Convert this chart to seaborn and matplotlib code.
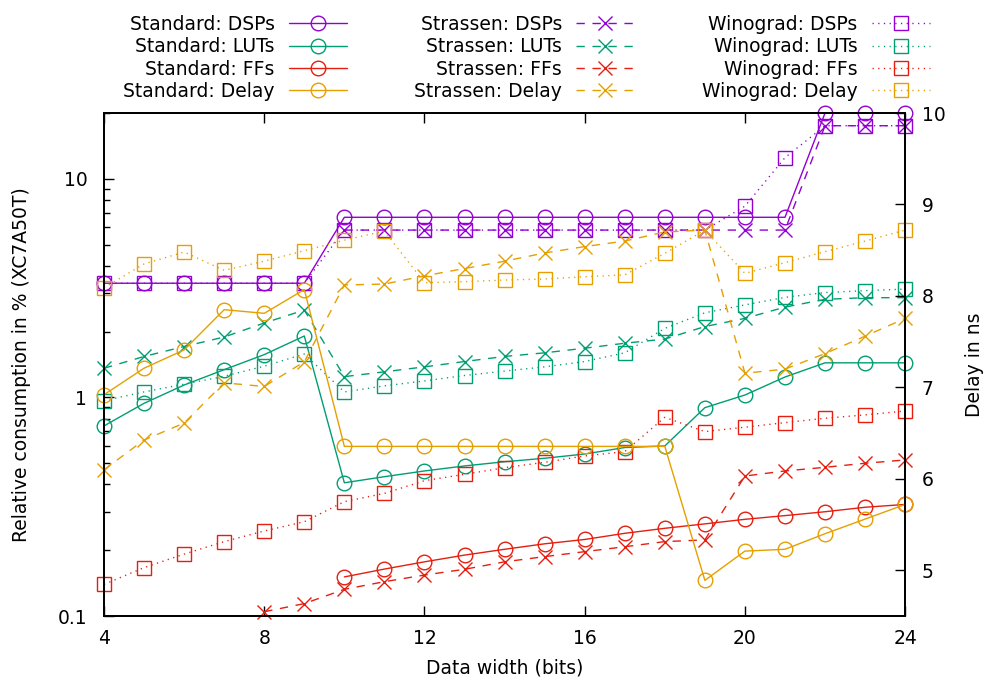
import numpy as np
import pandas as pd
import matplotlib
matplotlib.use("Agg")
import matplotlib.pyplot as plt
import seaborn as sns

# ---- data -------------------------------------------------------------
widths = list(range(4, 25))

std_dsps = [3.33] * 6 + [6.67] * 12 + [20.0] * 3
std_luts = [0.741, 0.94, 1.14, 1.34, 1.57, 1.91, 0.407, 0.434, 0.461, 0.486,
            0.508, 0.527, 0.551, 0.59, 0.60, 0.898, 1.026, 1.24, 1.44, 1.44, 1.44]
std_ffs_x = list(range(10, 25))
std_ffs = [0.151, 0.164, 0.177, 0.190, 0.202, 0.214, 0.224, 0.239, 0.252,
           0.264, 0.277, 0.288, 0.300, 0.3145, 0.324]
std_delay = [6.92, 7.21, 7.41, 7.85, 7.81, 8.07, 6.355, 6.355, 6.355, 6.355,
             6.355, 6.355, 6.355, 6.355, 6.355, 4.89, 5.21, 5.23, 5.40, 5.56, 5.72]

str_dsps_x = list(range(10, 25))
str_dsps = [5.83] * 12 + [17.5] * 3
str_luts = [1.36, 1.54, 1.71, 1.89, 2.19, 2.51, 1.245, 1.31, 1.38, 1.46, 1.54,
            1.60, 1.68, 1.77, 1.85, 2.11, 2.30, 2.59, 2.81, 2.86, 2.86]
str_ffs_x = list(range(8, 25))
str_ffs = [0.1046, 0.114, 0.1325, 0.1436, 0.154, 0.1636, 0.177, 0.187, 0.197,
           0.2075, 0.219, 0.223, 0.437, 0.461, 0.479, 0.500, 0.5176]
str_delay = [6.10, 6.425, 6.61, 7.05, 7.01, 7.28, 8.12, 8.13, 8.22, 8.30, 8.38,
             8.47, 8.54, 8.60, 8.70, 8.72, 7.155, 7.20, 7.37, 7.56, 7.755]

win_dsps = [3.33] * 6 + [5.83] * 10 + [7.5, 12.5, 17.5, 17.5, 17.5]
win_luts = [0.967, 1.06, 1.15, 1.25, 1.39, 1.58, 1.06, 1.13, 1.19, 1.26, 1.32,
            1.38, 1.46, 1.60, 2.07, 2.44, 2.65, 2.87, 3.02, 3.08, 3.13]
win_ffs = [0.1396, 0.1665, 0.192, 0.219, 0.245, 0.270, 0.3336, 0.364, 0.416,
           0.445, 0.477, 0.505, 0.540, 0.565, 0.811, 0.698, 0.731, 0.767, 0.803,
           0.832, 0.867]
win_delay = [8.09, 8.35, 8.48, 8.28, 8.38, 8.495, 8.61, 8.71, 8.145, 8.156,
             8.174, 8.185, 8.21, 8.23, 8.466, 8.72, 8.247, 8.364, 8.484, 8.60, 8.72]

# ---- styling ----------------------------------------------------------
PURPLE, GREEN, RED, ORANGE = "#9400d3", "#009e73", "#e51e10", "#e69f00"
SOLID = "-"
DASHED = (0, (6.0, 5.5))
DOTTED = (0, (0.9, 3.2))

sns.set_style("ticks")
plt.rcParams["font.family"] = ["DejaVu Sans"]
plt.rcParams["font.size"] = 13.5
for key in ("text.color", "axes.labelcolor", "xtick.color", "ytick.color",
            "axes.edgecolor"):
    plt.rcParams[key] = "black"

fig = plt.figure(figsize=(9.86, 6.81), dpi=100)
ax = fig.add_subplot(111)
ax2 = ax.twinx()
fig.subplots_adjust(left=0.1055, right=0.918, top=0.834, bottom=0.0954)

series = [
    # (axis, x, y, color, marker, linestyle, label)
    (ax, widths, std_dsps, PURPLE, "o", SOLID, "Standard: DSPs"),
    (ax, widths, std_luts, GREEN, "o", SOLID, "Standard: LUTs"),
    (ax, std_ffs_x, std_ffs, RED, "o", SOLID, "Standard: FFs"),
    (ax2, widths, std_delay, ORANGE, "o", SOLID, "Standard: Delay"),
    (ax, str_dsps_x, str_dsps, PURPLE, "x", DASHED, "Strassen: DSPs"),
    (ax, widths, str_luts, GREEN, "x", DASHED, "Strassen: LUTs"),
    (ax, str_ffs_x, str_ffs, RED, "x", DASHED, "Strassen: FFs"),
    (ax2, widths, str_delay, ORANGE, "x", DASHED, "Strassen: Delay"),
    (ax, widths, win_dsps, PURPLE, "s", DOTTED, "Winograd: DSPs"),
    (ax, widths, win_luts, GREEN, "s", DOTTED, "Winograd: LUTs"),
    (ax, widths, win_ffs, RED, "s", DOTTED, "Winograd: FFs"),
    (ax2, widths, win_delay, ORANGE, "s", DOTTED, "Winograd: Delay"),
]

handles = []
for target, xs, ys, col, mk, ls, lab in series:
    df = pd.DataFrame({"width": xs, "value": ys})
    n_before = len(target.lines)
    sns.lineplot(data=df, x="width", y="value", ax=target, color=col,
                 linestyle=ls, linewidth=1.0, marker=mk, markersize=10.5,
                 markerfacecolor="none", markeredgecolor=col,
                 markeredgewidth=1.0, label=lab, legend=False)
    line = target.lines[n_before]
    line.set_label(lab)
    line.set_clip_on(False)
    handles.append(line)

for a in (ax, ax2):
    leg = a.get_legend()
    if leg is not None:
        leg.remove()

# ---- axes -------------------------------------------------------------
ax.set_xlim(4, 24)
ax.set_xticks([4, 8, 12, 16, 20, 24])
ax.set_yscale("log")
ax.set_ylim(0.1, 20)
ax.set_yticks([0.1, 1, 10])
ax.set_yticklabels(["0.1", "1", "10"])
ax.yaxis.set_minor_locator(matplotlib.ticker.LogLocator(base=10, subs=np.arange(2, 10)))
ax.yaxis.set_minor_formatter(matplotlib.ticker.NullFormatter())

ax2.set_ylim(4.5, 10)
ax2.set_yticks([5, 6, 7, 8, 9, 10])

ax.set_xlabel("Data width (bits)", labelpad=8)
ax.set_ylabel("Relative consumption in % (XC7A50T)", labelpad=19)
ax2.set_ylabel("Delay in ns", labelpad=14)

ax.tick_params(axis="x", which="both", direction="in", top=True, bottom=True,
               length=7, width=1.0, pad=9, color="black", labelcolor="black")
ax.tick_params(axis="y", which="major", direction="in", left=True, right=False,
               length=7, width=1.0, pad=12, color="black", labelcolor="black")
ax.tick_params(axis="y", which="minor", direction="in", left=True, right=False,
               length=4, width=1.0, color="black")
ax2.tick_params(axis="y", which="major", direction="in", right=True, left=False,
                length=7, width=1.0, pad=12, color="black", labelcolor="black")
ax2.tick_params(axis="y", which="minor", right=False, left=False)

for a in (ax, ax2):
    for sp in a.spines.values():
        sp.set_visible(True)
        sp.set_color("black")
        sp.set_linewidth(1.3)
ax.grid(False)
ax2.grid(False)

fig.legend(handles=handles, labels=[h.get_label() for h in handles],
           loc="upper center", bbox_to_anchor=(0.534, 0.995), ncol=3,
           frameon=False, markerfirst=False, numpoints=1,
           handlelength=3.1, handletextpad=0.75, columnspacing=3.6,
           labelspacing=0.185, fontsize=13.5, borderaxespad=0.2)

fig.savefig("out.png", dpi=100)
